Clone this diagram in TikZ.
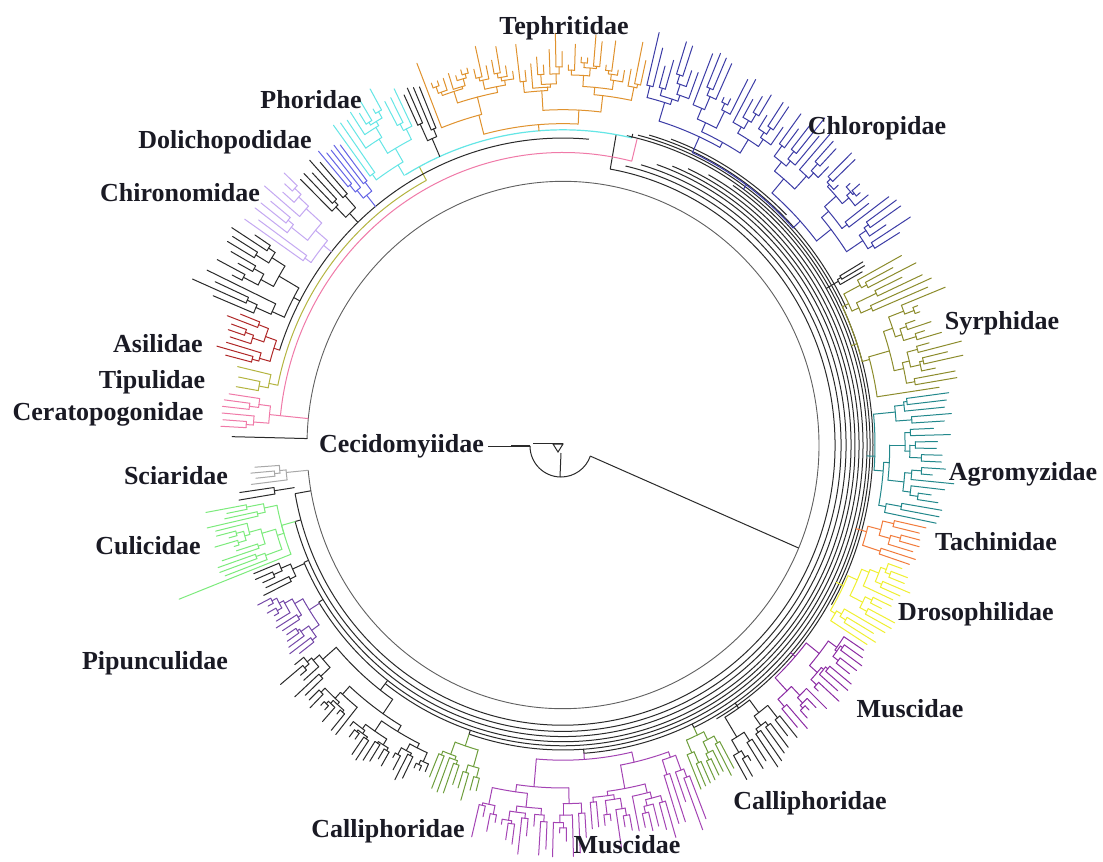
\documentclass[tikz,border=0pt]{standalone}
\usepackage{fontspec}
\setmainfont{Liberation Serif}
\definecolor{cSci}{HTML}{A8A8A8}
\definecolor{cCul}{HTML}{7CEB7C}
\definecolor{cPip}{HTML}{7448A8}
\definecolor{cCal}{HTML}{6E9E3C}
\definecolor{cMusB}{HTML}{A444B4}
\definecolor{cMusR}{HTML}{8C2CA4}
\definecolor{cDro}{HTML}{F0F030}
\definecolor{cTac}{HTML}{F27C3C}
\definecolor{cAgr}{HTML}{22888C}
\definecolor{cSyr}{HTML}{8C8C2C}
\definecolor{cChl}{HTML}{3C3CA6}
\definecolor{cTep}{HTML}{E0922E}
\definecolor{cPho}{HTML}{64E6E6}
\definecolor{cDol}{HTML}{6464E6}
\definecolor{cChi}{HTML}{C4A8F2}
\definecolor{cAsi}{HTML}{B02828}
\definecolor{cTip}{HTML}{B4B440}
\definecolor{cCer}{HTML}{F07AA8}
\definecolor{cBlk}{HTML}{2A2A2A}
\definecolor{cLab}{HTML}{1A1A24}
\newcommand\Aone{0}\newcommand\Dang{1}\newcommand\Rtip{350}\newcommand\Rvar{20}
\newcommand\Csub[4]{%
  \begingroup
  \edef\ii{#1}\edef\jj{#2}\edef\rp{#3}\edef\rn{#4}%
  \pgfmathsetmacro\cang{\Aone+((\ii+\jj)/2-0.5)*\Dang}%
  \draw[br,cc] (\cang:\rp) -- (\cang:\rn);
  \ifnum\ii=\jj\relax
  \else
    \pgfmathtruncatemacro\ms{\ii+floor((rnd+rnd)/2*(\jj-\ii))}%
    \ifnum\ms=\jj\relax \edef\ms{\the\numexpr\jj-1\relax}\fi
    \pgfmathtruncatemacro\mt{\ms+1}%
    \pgfmathsetmacro\cA{\Aone+((\ii+\ms)/2-0.5)*\Dang}%
    \pgfmathsetmacro\cB{\Aone+((\mt+\jj)/2-0.5)*\Dang}%
    \draw[br,cc] (\cA:\rn) arc[start angle=\cA, end angle=\cB, radius=\rn];
    \ifnum\ii=\ms\relax
      \pgfmathsetmacro\rA{max(\Rtip+(rnd-0.5)*\Rvar,\rn+5)}%
    \else
      \pgfmathsetmacro\rA{\rn+(\Rtip-\rn)*(0.08+0.3*rnd)}%
    \fi
    \ifnum\mt=\jj\relax
      \pgfmathsetmacro\rB{max(\Rtip+(rnd-0.5)*\Rvar,\rn+5)}%
    \else
      \pgfmathsetmacro\rB{\rn+(\Rtip-\rn)*(0.08+0.3*rnd)}%
    \fi
    \Csub{\ii}{\ms}{\rn}{\rA}%
    \Csub{\mt}{\jj}{\rn}{\rB}%
  \fi
  \endgroup}
% #1 colour, #2 a1, #3 a2, #4 leaves, #5 stem radius, #6 base radius, #7 tip radius, #8 tip spread, #9 seed
\newcommand\clade[9]{%
  \begingroup
  \colorlet{cc}{#1}%
  \pgfmathsetseed{#9}%
  \pgfmathsetmacro\Aone{#2}%
  \pgfmathsetmacro\Dang{((#3)-(#2))/(#4)}%
  \pgfmathsetmacro\Rtip{#7}\pgfmathsetmacro\Rvar{#8}%
  \Csub{1}{#4}{#5}{#6}%
  \endgroup}
\begin{document}
\begin{tikzpicture}[x=1pt,y=1pt,
  lab/.style={font=\fontsize{26}{30}\selectfont\bfseries, text=cLab, inner sep=0pt},
  br/.style={line width=1pt, line cap=round},
  bb/.style={line width=1pt, draw=cBlk}]
\useasboundingbox (0,0) rectangle (1103,-862);
\fill[white] (0,0) rectangle (1103,-862);

\begin{scope}[shift={(563,-445)}, yscale=1.03]
  % inner ring
  \draw[line width=0.9pt, gray!75!black] (185.5:256) arc[start angle=185.5, end angle=538.6, radius=256];
  \coordinate (N1) at (-23:256);
  % right-hand black band
  \draw[bb] (190:256) -- (190:272);
  \foreach \r/\s/\e [remember=\r as \rprev (initially 272)] in
     {272/190/440, 278/195.5/437, 283/203.75/434, 288/212/431, 292/232.5/428,
      296/251.5/425, 300/274/421, 304/295.5/416} {
    \draw[bb] (\s:\rprev) -- (\s:\r);
    \draw[bb] (\s:\r) arc[start angle=\s, end angle=\e, radius=\r];
  }
  \foreach \r/\s/\e in {307/300/438, 310/330/436, 313/385/434, 316/405/430} {
    \draw[bb] (\s:\r) arc[start angle=\s, end angle=\e, radius=\r];
  }
  \draw[bb] (440:272) -- (440:306);
  % upper-left backbone arcs
  \draw[line width=1pt, cCer] (534.25:284) arc[start angle=534.25, end angle=436, radius=284];
  \draw[line width=1pt, cCer] (534.25:256) -- (534.25:284);
  \draw[line width=1pt, cCer] (436:284) -- (436:306);
  \draw[line width=1pt, cTip] (528.5:291) arc[start angle=528.5, end angle=478, radius=291];
  \draw[line width=1pt, cTip] (478:291) -- (478:306);
  \draw[bb] (522:298) arc[start angle=522, end angle=445, radius=298];
  \draw[line width=1.2pt, cPho] (481:306) arc[start angle=481, end angle=437, radius=306];
  \draw[bb] (437:306) -- (437:310);

  % clades
  \clade{cSci}{183.5}{187.5}{4}{256}{278}{312}{10}{11}
  \clade{cBlk}{187.5}{190}{2}{272}{292}{326}{6}{12}
  \clade{cCul}{190}{201}{14}{278}{292}{352}{28}{13}
  \draw[br,cCul] (195.5:292) arc[start angle=195.5, end angle=201.3, radius=292];
  \draw[br,cCul] (201.3:292) -- (201.3:412);
  \clade{cBlk}{201.5}{206.5}{5}{283}{296}{332}{10}{14}
  \clade{cPip}{206.5}{218}{12}{288}{300}{338}{12}{15}
  \clade{cBlk}{218}{247}{30}{292}{300}{356}{30}{16}
  \clade{cCal}{247}{256}{9}{296}{308}{354}{16}{17}
  \clade{cMusB}{256}{292}{36}{300}{306}{384}{34}{18}
  \clade{cCal}{292}{299}{8}{304}{312}{356}{14}{19}
  \clade{cBlk}{299}{310}{11}{304}{310}{370}{25}{20}
  \clade{cMusR}{310}{327}{16}{304}{310}{362}{25}{21}
  \clade{cDro}{327}{341}{14}{304}{312}{364}{25}{22}
  \clade{cTac}{341}{348}{7}{304}{315}{366}{12}{23}
  \clade{cAgr}{348}{368}{20}{304}{312}{380}{30}{24}
  \clade{cSyr}{368}{389}{22}{304}{310}{392}{40}{25}
  \clade{cBlk}{389}{391}{3}{304}{318}{345}{8}{26}
  \clade{cChl}{391}{437}{46}{307}{312}{392}{40}{27}
  \clade{cTep}{437}{472}{36}{306}{312}{382}{36}{28}
  \clade{cBlk}{472}{475.5}{4}{306}{325}{378}{15}{29}
  \clade{cPho}{475.5}{487}{11}{306}{318}{386}{20}{30}
  \clade{cDol}{487}{491}{5}{298}{312}{372}{15}{31}
  \clade{cBlk}{491}{496}{5}{298}{310}{372}{20}{32}
  \clade{cChi}{496}{506}{9}{298}{308}{382}{20}{33}
  \clade{cBlk}{506}{518}{12}{298}{305}{386}{40}{34}
  \clade{cAsi}{518}{526}{8}{298}{304}{352}{16}{35}
  \clade{cTip}{526}{531}{3}{291}{300}{332}{8}{36}
  \clade{cCer}{531}{537.5}{6}{284}{295}{338}{12}{37}
  \draw[br,cBlk] (538.6:256) -- (538.6:331);
\end{scope}

% root (Cecidomyiidae)
\begin{scope}[shift={(561,-446)}]
  \draw[bb] (180:31) arc[start angle=180, end angle=341, radius=31];
  \coordinate (rootR) at (341:31);
  \coordinate (cecEnd) at (180:73);
  \draw[bb] (180:31) -- (cecEnd);
  \draw[line width=2pt, cBlk] (180:31) -- (180:50);
  \draw[bb] (-28,3) -- (2,3);
  \draw[bb] (-8,2) -- (2,2) -- (-3,-6) -- cycle;
  \draw[bb] (0,-7) -- (-1,-31);
\end{scope}
\draw[bb] (rootR) -- (N1);

% labels
\node[lab] (tep) at (564,-28.5) {Tephritidae};
\node[lab] (chl) at (877,-128.5) {Chloropidae};
\node[lab] (syr) at (1002,-323) {Syrphidae};
\node[lab] (agr) at (1023,-474) {Agromyzidae};
\node[lab] (tac) at (996,-542) {Tachinidae};
\node[lab] (dro) at (976,-614) {Drosophilidae};
\node[lab] (musR) at (910,-708.5) {Muscidae};
\node[lab] (calR) at (810,-803) {Calliphoridae};
\node[lab] (musB) at (627,-845) {Muscidae};
\node[lab] (calL) at (388,-831) {Calliphoridae};
\node[lab] (pip) at (155,-663) {Pipunculidae};
\node[lab] (cul) at (148,-545.5) {Culicidae};
\node[lab] (sci) at (176,-476) {Sciaridae};
\node[lab, anchor=east] (cec) at (484,-446) {Cecidomyiidae};
\node[lab] (cer) at (108,-414) {Ceratopogonidae};
\node[lab] (tip) at (152,-382) {Tipulidae};
\node[lab] (asi) at (158,-344) {Asilidae};
\node[lab] (chi) at (180,-193) {Chironomidae};
\node[lab] (dol) at (225,-142) {Dolichopodidae};
\node[lab] (pho) at (311,-100) {Phoridae};
\end{tikzpicture}
\end{document}
